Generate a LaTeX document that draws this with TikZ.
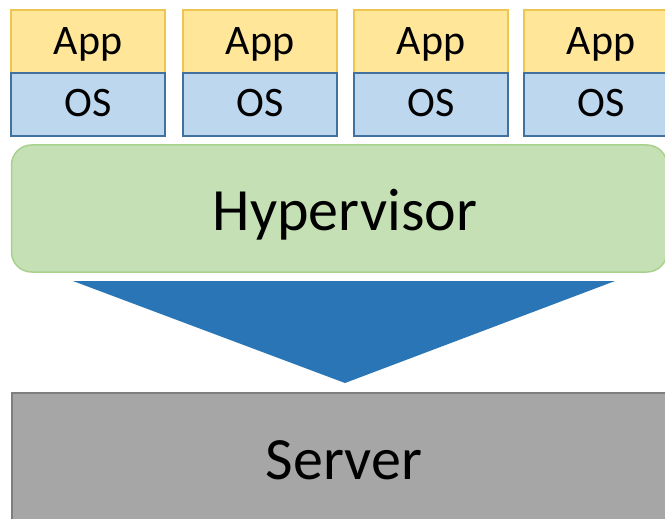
\documentclass[tikz,border=0pt]{standalone}
\usepackage{fontspec}
\setmainfont{Carlito}
\definecolor{appfill}{HTML}{FFE699}
\definecolor{appline}{HTML}{EDC553}
\definecolor{osfill}{HTML}{BDD7EE}
\definecolor{osline}{HTML}{41719C}
\definecolor{hvfill}{HTML}{C5E0B4}
\definecolor{hvline}{HTML}{A9D18E}
\definecolor{arrowblue}{HTML}{2A75B5}
\definecolor{srvfill}{HTML}{A6A6A6}
\definecolor{srvline}{HTML}{7F7F7F}
\begin{document}
\begin{tikzpicture}[x=1pt,y=-1pt,
  appbox/.style={draw=appline,fill=appfill,line width=1.3pt},
  osbox/.style={draw=osline,fill=osfill,line width=1.3pt},
  hvbox/.style={draw=hvline,fill=hvfill,line width=1.5pt,rounded corners=20pt},
  srvbox/.style={draw=srvline,fill=srvfill,line width=1.8pt},
  lbl/.style={anchor=base,inner sep=0pt,font=\fontsize{42}{42}\selectfont},
  biglbl/.style={anchor=base,inner sep=0pt,font=\fontsize{60}{60}\selectfont}]
\useasboundingbox (0,0) rectangle (665,519);
\clip (0,0) rectangle (665,519);
\fill[white] (0,0) rectangle (665,519);

% four guest stacks: application on top of its operating system
\foreach \i/\x in {1/11,2/183,3/354,4/524}{
  \draw[appbox] (\x,10) rectangle ++(154,63);
  \draw[osbox] (\x,73) rectangle ++(154,63);
  \node[lbl] (app\i) at (\x+77,55) {App};
  \node[lbl] (os\i) at (\x+77,117) {OS};
}

% hypervisor layer
\draw[hvbox] (11.5,145) rectangle (667,272);
\node[biglbl] (hv) at (345,230) {Hypervisor};

% downward wedge
\coordinate (wl) at (73,281);
\coordinate (wr) at (615,281);
\coordinate (wtip) at (345,383);
\fill[arrowblue] (wl) -- (wr) -- (wtip) -- cycle;

% physical server
\draw[srvbox] (12,393) rectangle (700,560);
\node[biglbl] (srv) at (344,479) {Server};
\end{tikzpicture}
\end{document}
